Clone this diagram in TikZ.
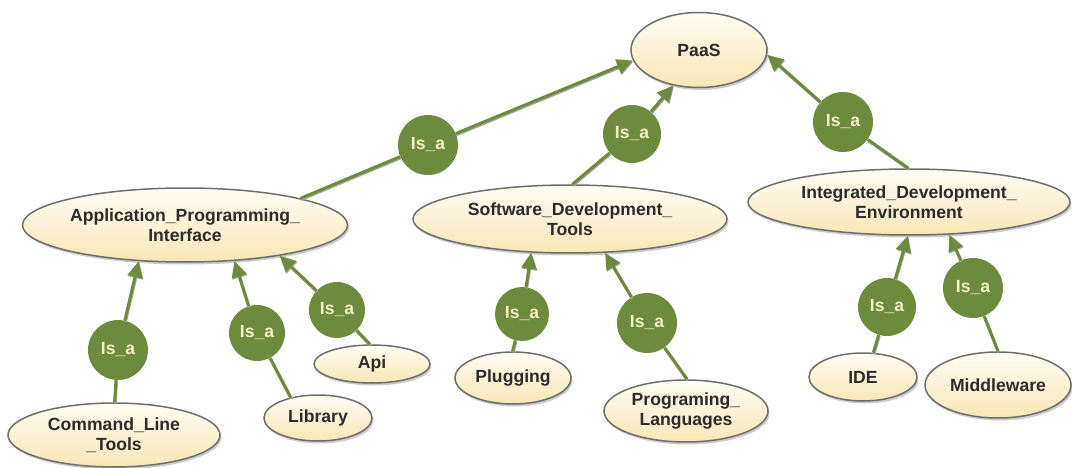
\documentclass[tikz,border=0pt]{standalone}
\usepackage{fontspec}
\setmainfont{Liberation Sans}
\usetikzlibrary{shapes.geometric,arrows.meta,shadows}

\definecolor{isagreen}{HTML}{6E8B3D}
\definecolor{isatext}{HTML}{F4F0C6}
\definecolor{ringgray}{HTML}{6E6E6E}
\definecolor{creamtop}{HTML}{FFFDF4}
\definecolor{creambottom}{HTML}{F8E7B6}
\definecolor{labelgray}{HTML}{2B2B2B}

\begin{document}
\begin{tikzpicture}[x=1pt,y=-1pt,
  concept/.style={ellipse, draw=ringgray, line width=1.5pt,
    top color=creamtop, bottom color=creambottom,
    drop shadow={shadow xshift=1.5pt, shadow yshift=-2.5pt, fill=black!40},
    inner sep=0pt, align=center, text=labelgray,
    font=\fontsize{17.6}{20}\selectfont\bfseries},
  rel/.style={circle, fill=isagreen, minimum size=58pt, inner sep=0pt,
    text=isatext, font=\fontsize{17.6}{20}\selectfont\bfseries},
  link/.style={draw=isagreen, line width=3pt,
    preaction={draw=black!35, line width=3pt,
      transform canvas={shift={(0.6pt,-1.2pt)}}}},
  isarrow/.style={link, -{Triangle[length=16pt,width=15pt]}}
]
\useasboundingbox (0,0) rectangle (1072,468);

% concepts
\node[concept, minimum width=136pt, minimum height=75pt] (paas) at (699,50) {PaaS};
\node[concept, minimum width=312pt, minimum height=74pt] (apiface) at (185,225)
  {Application\_Programming\_\\Interface};
\node[concept, minimum width=314pt, minimum height=68pt] (sdt) at (570,219)
  {Software\_Development\_\\Tools};
\node[concept, minimum width=322pt, minimum height=66pt] (ide) at (909,202)
  {Integrated\_Development\_\\Environment};
\node[concept, minimum width=212pt, minimum height=64pt] (clt) at (114,435)
  {Command\_Line\\\_Tools};
\node[concept, minimum width=108pt, minimum height=46pt] (lib) at (318,418) {Library};
\node[concept, minimum width=116pt, minimum height=38pt] (api) at (372,364) {Api};
\node[concept, minimum width=116pt, minimum height=52pt] (plug) at (513,378) {Plugging};
\node[concept, minimum width=164pt, minimum height=62pt] (lang) at (686,411)
  {Programing\_\\Languages};
\node[concept, minimum width=108pt, minimum height=48pt] (idetool) at (863,377) {IDE};
\node[concept, minimum width=146pt, minimum height=66pt] (mw) at (998,385) {Middleware};

% relations
\node[rel, minimum size=60pt] (r1) at (428,145) {Is\_a};
\node[rel] (r2) at (632,134) {Is\_a};
\node[rel, minimum size=60pt] (r3) at (843,122) {Is\_a};
\node[rel, minimum size=60pt] (r4) at (118,350) {Is\_a};
\node[rel, minimum size=56pt] (r5) at (257,333) {Is\_a};
\node[rel, minimum size=56pt] (r6) at (337,310) {Is\_a};
\node[rel, minimum size=54pt] (r7) at (522,314) {Is\_a};
\node[rel, minimum size=60pt] (r8) at (647,323) {Is\_a};
\node[rel] (r9) at (887,307) {Is\_a};
\node[rel, minimum size=60pt] (r10) at (973,288) {Is\_a};

% connectors: child -- relation -> parent
\draw[link] (apiface.13) -- (r1);
\draw[isarrow] (r1) -- (paas.189);
\draw[link] (sdt.86) -- (r2);
\draw[isarrow] (r2) -- (paas.234);
\draw[link] (ide.91) -- (r3);
\draw[isarrow] (r3) -- (paas.356);

\draw[link] (clt.89) -- (r4);
\draw[isarrow] (r4) -- (apiface.218);
\draw[link] (lib.143) -- (r5);
\draw[isarrow] (r5) -- (apiface.324);
\draw[link] (api.96) -- (r6);
\draw[isarrow] (r6) -- (apiface.342);

\draw[link] (plug.91) -- (r7);
\draw[isarrow] (r7) -- (sdt.221);
\draw[link] (lang.88) -- (r8);
\draw[isarrow] (r8) -- (sdt.316);

\draw[link] (idetool.67) -- (r9);
\draw[isarrow] (r9) -- (ide.268);
\draw[link] (mw.90) -- (r10);
\draw[isarrow] (r10) -- (ide.321);
\end{tikzpicture}
\end{document}
